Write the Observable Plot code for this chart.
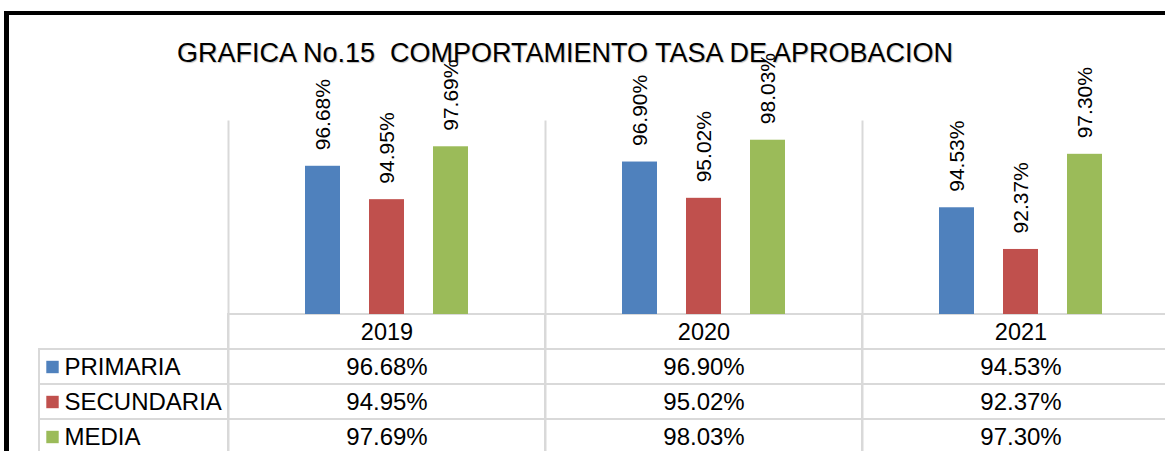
<!DOCTYPE html>
<html>
<head>
<meta charset="utf-8">
<script src="https://cdn.jsdelivr.net/npm/d3@7"></script>
<script src="https://cdn.jsdelivr.net/npm/@observablehq/plot@0.6"></script>
<style>
  body { margin: 0; background: #fff; }
  #wrap { position: relative; width: 1165px; height: 451px; overflow: hidden; background: #fff;
          font-family: "Liberation Sans", Arial, sans-serif; }
  #border { position: absolute; left: 4px; top: 11px; right: -10px; bottom: -10px;
            border-top: 4px solid #000; border-left: 5px solid #000; }
  #title { position: absolute; left: 0; width: 1130px; top: 40px; text-align: center;
           font-size: 27px; line-height: 27px; white-space: pre; color: #000;
           text-shadow: 1px 1px 1px rgba(0,0,0,0.25); }
  .layer { position: absolute; left: 0; top: 0; }
  .layer svg { display: block; }
</style>
</head>
<body>
<div id="wrap">
  <div id="border"></div>
  <div id="table" class="layer"></div>
  <div id="chart" class="layer"></div>
  <div id="title">GRAFICA No.15  COMPORTAMIENTO TASA DE APROBACION</div>
</div>
<script>
// ---- data ----
const years = ["2019", "2020", "2021"];
const series = ["PRIMARIA", "SECUNDARIA", "MEDIA"];
const primaria = [0.9668, 0.9690, 0.9453];
const secundaria = [0.9495, 0.9502, 0.9237];
const media = [0.9769, 0.9803, 0.9730];
const colors = ["#4F81BD", "#C0504D", "#9BBB59"];
const yDomain = [0.89, 0.99];

const values = [primaria, secundaria, media];
const data = [];
series.forEach((s, si) => years.forEach((yr, yi) => data.push({year: yr, series: s, value: values[si][yi]})));
const fmt = d3.format(".2%");
const grid = "#d9d9d9";
const font = "'Liberation Sans', Arial, sans-serif";

// ---- chart (bars) ----
const chart = Plot.plot({
  width: 1165, height: 451,
  marginLeft: 228, marginRight: -14, marginTop: 121, marginBottom: 0,
  style: {background: "transparent", fontFamily: font, overflow: "hidden"},
  fx: {domain: years, padding: 0, axis: null},
  x: {domain: series, range: [304, 469], paddingInner: 0.46, paddingOuter: 0, axis: null},
  y: {domain: yDomain, range: [314, 121], clamp: true, axis: null},
  color: {domain: series, range: colors},
  marks: [
    Plot.frame({anchor: "left", stroke: grid, strokeWidth: 2}),
    Plot.barY(data, {fx: "year", x: "series", y: "value", fill: "series"}),
    Plot.text(data, {fx: "year", x: "series", y: "value", text: d => fmt(d.value),
      rotate: -90, textAnchor: "start", dy: -16, fontSize: 21, fill: "#000"})
  ]
});
document.getElementById("chart").appendChild(chart);

// ---- data table ----
const rows = ["header", ...series];
const cells = [];
rows.forEach(r => years.forEach(yr => cells.push({year: yr, row: r})));
const table = Plot.plot({
  width: 1165, height: 451,
  marginLeft: 39, marginRight: -14, marginTop: 314, marginBottom: 0,
  style: {background: "transparent", fontFamily: font, overflow: "hidden"},
  x: {domain: years, range: [228, 1179], padding: 0, axis: null},
  y: {domain: rows, range: [314, 454], padding: 0, axis: null},
  color: {domain: series, range: colors},
  marks: [
    Plot.cell(series, {y: d => d, fill: "none", stroke: grid, strokeWidth: 2}),
    Plot.cell(cells, {x: "year", y: "row", fill: "none", stroke: grid, strokeWidth: 2}),
    Plot.text(years, {x: d => d, y: () => "header", text: d => d, fontSize: 23.5, fill: "#000"}),
    Plot.text(data, {x: "year", y: "series", text: d => fmt(d.value), fontSize: 24, fill: "#000"}),
    Plot.dot(series, {y: d => d, frameAnchor: "left", dx: 13, symbol: "square", r: 7, fill: d => d}),
    Plot.text(series, {y: d => d, frameAnchor: "left", dx: 25, textAnchor: "start", text: d => d, fontSize: 24, fill: "#000"})
  ]
});
document.getElementById("table").appendChild(table);
</script>
</body>
</html>
